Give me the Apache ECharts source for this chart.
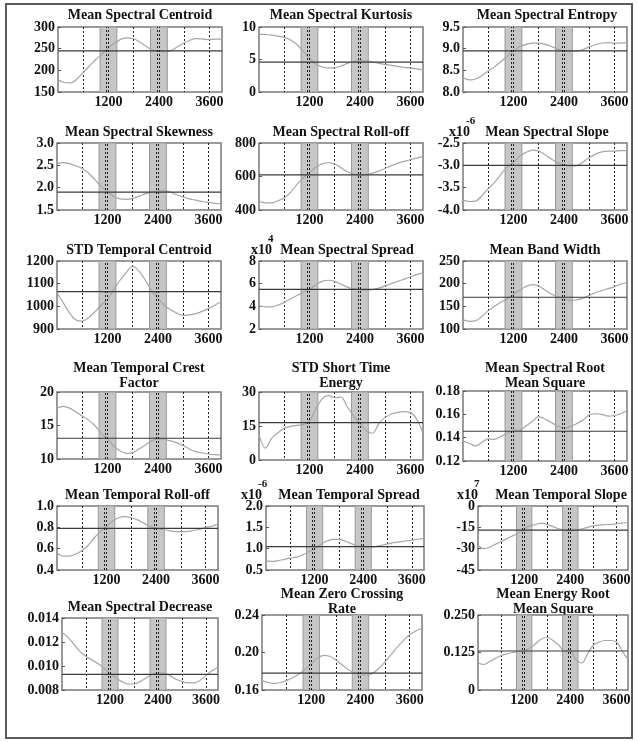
<!DOCTYPE html>
<html><head><meta charset="utf-8">
<script src="https://cdn.jsdelivr.net/npm/echarts@6/dist/echarts.min.js"></script>
<style>html,body{margin:0;padding:0;background:#fff}#c{width:637px;height:742px}</style>
</head><body><div id="c"></div>
<script>
// sample positions along the time axis (shared by every panel)
const X = [0,150,300,450,600,750,900,1050,1200,1350,1500,1650,1800,1950,2100,2250,2400,2550,2700,2850,3000,3150,3300,3450,3600,3750,3900];

const spectralCentroid = [178,172,171,180,195,210,225,238,252,263,272,275,273,265,255,247,244,243,246,255,263,270,273,272,271,272,272];
const spectralKurtosis = [8.9,8.85,8.75,8.6,8.4,8.0,7.3,6.3,5.2,4.3,3.85,3.7,3.75,4.0,4.4,4.65,4.8,4.8,4.6,4.4,4.25,4.1,3.95,3.8,3.7,3.55,3.4];
const spectralEntropy = [8.33,8.28,8.30,8.38,8.48,8.58,8.70,8.82,8.95,9.05,9.10,9.13,9.13,9.10,9.05,8.99,8.95,8.94,8.94,8.98,9.04,9.09,9.13,9.14,9.13,9.13,9.14];
const spectralSkewness = [2.54,2.56,2.54,2.49,2.43,2.33,2.18,2.03,1.92,1.80,1.75,1.74,1.76,1.81,1.86,1.90,1.93,1.93,1.90,1.84,1.79,1.75,1.72,1.69,1.67,1.65,1.64];
const spectralRolloff = [450,443,442,455,472,505,552,592,622,655,675,682,675,652,628,614,610,612,620,633,648,665,680,690,700,710,720];
const spectralSlope = [-3.78,-3.81,-3.80,-3.68,-3.52,-3.38,-3.20,-3.04,-2.93,-2.80,-2.71,-2.66,-2.68,-2.76,-2.86,-2.94,-2.99,-3.02,-3.01,-2.93,-2.83,-2.75,-2.70,-2.68,-2.68,-2.67,-2.67];
const stdTemporalCentroid = [1060,1015,970,940,935,950,975,1005,1030,1075,1115,1150,1178,1155,1115,1070,1035,1005,985,970,960,962,968,978,990,1005,1020];
const spectralSpread = [4.05,3.95,3.95,4.1,4.35,4.65,4.95,5.25,5.5,5.9,6.2,6.3,6.2,5.95,5.7,5.55,5.48,5.45,5.48,5.6,5.8,6.0,6.2,6.4,6.6,6.8,6.95];
const bandWidth = [120,117,118,128,140,150,159,167,176,186,194,198,195,186,177,171,166,163,164,168,174,180,185,189,193,199,202];
const temporalCrest = [17.6,17.85,17.6,17.0,16.4,15.8,15.0,13.8,13.0,11.9,11.2,10.85,10.95,11.5,12.1,12.7,13.0,12.95,12.7,12.4,12.0,11.5,11.1,10.9,10.75,10.65,10.6];
const stdShortTimeEnergy = [11,5.2,9.5,12,14,14.8,15.3,15.6,17,22.5,27,28.4,27.5,27.8,23.5,19.5,16,13,11.8,16,18.8,20.3,21,21.3,21,18,12];
const spectralRms = [0.137,0.135,0.133,0.136,0.139,0.1385,0.141,0.1435,0.1462,0.1465,0.150,0.154,0.158,0.156,0.153,0.150,0.148,0.1495,0.152,0.155,0.1595,0.1605,0.160,0.1585,0.159,0.1605,0.163];
const temporalRolloff = [0.56,0.53,0.53,0.55,0.58,0.63,0.70,0.76,0.81,0.86,0.89,0.90,0.89,0.87,0.84,0.81,0.79,0.78,0.77,0.76,0.76,0.76,0.77,0.78,0.80,0.81,0.83];
const temporalSpread = [0.72,0.70,0.72,0.75,0.78,0.80,0.85,0.92,1.00,1.10,1.18,1.22,1.22,1.18,1.12,1.07,1.05,1.04,1.05,1.08,1.11,1.14,1.16,1.18,1.20,1.22,1.24];
const temporalSlope = [-28,-30,-29,-27,-25,-23,-21,-19,-16,-14,-13,-12,-13,-14.5,-16,-17,-17.5,-17,-16,-15,-14,-13.5,-13,-13,-12.5,-12,-11.5];
const spectralDecrease = [0.0128,0.0124,0.0118,0.0112,0.0108,0.0105,0.0102,0.0098,0.0094,0.0090,0.0087,0.0085,0.0085,0.0087,0.0090,0.0093,0.0094,0.0094,0.0092,0.0089,0.0087,0.0086,0.0086,0.0088,0.0092,0.0096,0.0099];
const zeroCrossingRate = [0.170,0.168,0.167,0.168,0.170,0.173,0.177,0.182,0.188,0.194,0.197,0.196,0.192,0.187,0.182,0.178,0.176,0.176,0.178,0.183,0.190,0.198,0.206,0.213,0.219,0.223,0.226];
const energyRms = [0.09,0.085,0.095,0.105,0.115,0.12,0.125,0.128,0.13,0.14,0.155,0.17,0.175,0.165,0.15,0.13,0.13,0.10,0.09,0.12,0.15,0.16,0.165,0.165,0.16,0.13,0.10];

// overall means (solid horizontal reference)
const meanValues = [245,4.6,8.95,1.9,610,-3.0,1065,5.5,170,13.1,16.5,0.1455,0.79,1.05,-17,0.0093,0.178,0.13];

const panelTitles = [
  'Mean Spectral Centroid','Mean Spectral Kurtosis','Mean Spectral Entropy',
  'Mean Spectral Skewness','Mean Spectral Roll-off','Mean Spectral Slope',
  'STD Temporal Centroid','Mean Spectral Spread','Mean Band Width',
  'Mean Temporal Crest\nFactor','STD Short Time\nEnergy','Mean Spectral Root\nMean Square',
  'Mean Temporal Roll-off','Mean Temporal Spread','Mean Temporal Slope',
  'Mean Spectral Decrease','Mean Zero Crossing\nRate','Mean Energy Root\nMean Square'
];

// y tick labels per panel
const yTickLabels = [
  ['150','200','250','300'], ['0','5','10'], ['8.0','8.5','9.0','9.5'],
  ['1.5','2.0','2.5','3.0'], ['400','600','800'], ['-4.0','-3.5','-3.0','-2.5'],
  ['900','1000','1100','1200'], ['2','4','6','8'], ['100','150','200','250'],
  ['10','15','20'], ['0','15','30'], ['0.12','0.14','0.16','0.18'],
  ['0.4','0.6','0.8','1.0'], ['0.5','1.0','1.5','2.0'], ['-45','-30','-15','0'],
  ['0.008','0.010','0.012','0.014'], ['0.16','0.20','0.24'], ['0','0.125','0.250']
];
const xTickLabels = [1200, 2400, 3600];

// exponent captions: [panel index, power, right edge of "x10" relative to the panel's left side]
const exponents = [[5,'-6',7],[7,'4',13],[13,'-6',-4],[14,'7',0]];

// highlighted intervals on the time axis
const bands = [[1000,1400],[2200,2600]];
const bandMarks = [1150,1200,2350,2400];

const seriesValues = [spectralCentroid,spectralKurtosis,spectralEntropy,spectralSkewness,spectralRolloff,spectralSlope,
  stdTemporalCentroid,spectralSpread,bandWidth,temporalCrest,stdShortTimeEnergy,spectralRms,
  temporalRolloff,temporalSpread,temporalSlope,spectralDecrease,zeroCrossingRate,energyRms];

// panel boxes: left, top, width, height
const boxes = [
  [58,27,164,65],[259,27,164,65],[463,27,164,65],
  [57,143,164,67],[259,143,164,67],[463,143,164,67],
  [57,261,164,68],[259,261,164,68],[463,261,164,68],
  [57,392,164,67],[259,392,164,68],[463,391,164,70],
  [57,506,161,64],[266,506,158,64],[478,506,150,64],
  [62,618,156,72],[262,615,160,75],[478,615,150,75]
];
// title position for each panel: centre x offset, vertical centre of first line
const titleDX = [0,0,2,0,0,2,0,6,0,0,0,0,0,4,8,0,0,0];
const titleY = [15,15,15,132,132,132,250,250,250,368,368,368,495,495,495,607,594,594];

const FONT = '"Liberation Serif","Times New Roman",serif';
const chart = echarts.init(document.getElementById('c'), null, {renderer:'canvas'});

const grid=[], xAxis=[], yAxis=[], series=[], graphic=[];
boxes.forEach((b,i)=>{
  const ticks = yTickLabels[i];
  const ymin = Number(ticks[0]), ymax = Number(ticks[ticks.length-1]);
  const step = Number(ticks[1]) - ymin;
  grid.push({left:b[0],top:b[1],width:b[2],height:b[3],show:true,borderColor:'#7a7a7a',borderWidth:1.5,backgroundColor:'transparent'});
  xAxis.push({gridIndex:i,type:'value',min:0,max:3900,interval:600,
    axisLine:{show:false},axisTick:{show:false},
    splitLine:{show:true,showMinLine:false,showMaxLine:false,lineStyle:{type:[2,2],color:'#222',width:1}},
    axisLabel:{margin:3,fontFamily:FONT,fontWeight:'bold',fontSize:14,color:'#111',showMinLabel:false,showMaxLabel:false,
      formatter:v=>xTickLabels.includes(v)?String(v):''}});
  yAxis.push({gridIndex:i,type:'value',min:ymin,max:ymax,interval:step,
    axisLine:{show:false},axisTick:{show:true,inside:true,length:3,lineStyle:{color:'#555'}},splitLine:{show:false},
    axisLabel:{margin:3,fontFamily:FONT,fontWeight:'bold',fontSize:14,color:'#111',
      formatter:v=>{const k=ticks.find(t=>Math.abs(Number(t)-v)<step*1e-3);return k===undefined?'':k;}}});
  // shaded intervals with their dotted markers
  series.push({type:'line',xAxisIndex:i,yAxisIndex:i,data:[],silent:true,z:1,
    markArea:{silent:true,itemStyle:{color:'#c6c6c6',borderColor:'#9a9a9a',borderWidth:1},
      data:bands.map(r=>[{xAxis:r[0]},{xAxis:r[1]}])},
    markLine:{silent:true,symbol:'none',label:{show:false},lineStyle:{type:[2,2],color:'#222',width:1},
      data:bandMarks.map(v=>({xAxis:v}))}});
  // the curve
  series.push({type:'line',xAxisIndex:i,yAxisIndex:i,z:3,showSymbol:false,smooth:0.3,silent:true,
    data:X.map((x,j)=>[x,seriesValues[i][j]]),
    lineStyle:{color:'#a6a6a6',width:1.2}});
  // mean level across the full time span
  series.push({type:'line',xAxisIndex:i,yAxisIndex:i,z:4,showSymbol:false,silent:true,
    data:[[0,meanValues[i]],[3900,meanValues[i]]],
    lineStyle:{color:'#3a3a3a',width:1.2}});
  // title
  const lines = panelTitles[i].split('\n');
  lines.forEach((t,k)=>graphic.push({type:'text',x:b[0]+b[2]/2+titleDX[i],y:titleY[i]+k*15,
    style:{text:t,align:'center',verticalAlign:'middle',font:'bold 14px '+FONT,fill:'#111'}}));
});
exponents.forEach(([i,p,dx])=>{
  const b = boxes[i];
  graphic.push({type:'text',x:b[0]+dx,y:titleY[i],style:{text:'x10',align:'right',verticalAlign:'middle',font:'bold 14px '+FONT,fill:'#111'}});
  graphic.push({type:'text',x:b[0]+dx-4,y:titleY[i]-11,style:{text:p,align:'left',verticalAlign:'middle',font:'bold 11px '+FONT,fill:'#111'}});
});
// outer frame
graphic.push({type:'rect',shape:{x:6,y:4,width:626,height:734},style:{fill:'none',stroke:'#5a5a5a',lineWidth:2},silent:true});

chart.setOption({animation:false,backgroundColor:'#fff',grid,xAxis,yAxis,series,graphic});
</script></body></html>
